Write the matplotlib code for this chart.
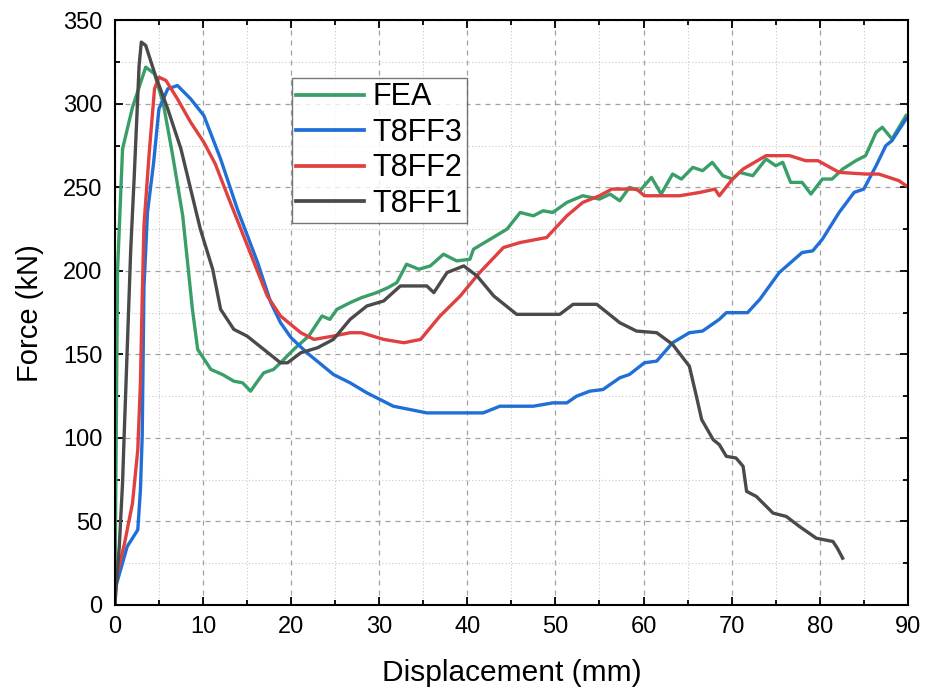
import matplotlib
matplotlib.use("Agg")
import matplotlib.pyplot as plt
from matplotlib.ticker import MultipleLocator

plt.rcParams['font.family'] = ['Liberation Sans', 'DejaVu Sans']

# Force-displacement curves (displacement in mm, force in kN)
fea_x = [0, 0.3, 0.87, 2.0, 3.5, 4.5, 5.5, 6.5, 7.7, 8.8, 9.4, 10.9, 12.2, 13.5, 14.5, 15.4,
         16.2, 16.9, 18.0, 18.8, 20.3, 22.0, 23.5, 24.4, 25.2, 26.7, 28.0, 29.7, 31.0, 32.0,
         33.1, 34.5, 35.8, 37.3, 38.8, 40.3, 40.7, 42.6, 44.5, 46.0, 47.5, 48.6, 49.7, 51.3,
         53.1, 55.0, 56.2, 57.3, 58.4, 59.6, 60.9, 62.0, 63.3, 64.3, 65.6, 66.7, 67.8, 69.0,
         70.1, 70.9, 72.4, 73.9, 75.0, 75.8, 76.7, 78.0, 79.0, 80.3, 81.4, 82.6, 84.1, 85.2,
         86.4, 87.1, 88.2, 89.0, 89.8]
fea_y = [0, 200, 273, 298, 322, 318, 300, 271, 233, 177, 153, 141, 138, 134, 133, 128,
         134, 139, 141, 145, 153, 161, 173, 171, 177, 181, 184, 187, 190, 193,
         204, 201, 203, 210, 206, 207, 213, 219, 225, 235, 233, 236, 235, 241,
         245, 243, 246, 242, 250, 248, 256, 246, 258, 255, 262, 260, 265, 257,
         255, 259, 257, 267, 263, 265, 253, 253, 246, 255, 255, 261, 266, 269,
         283, 286, 279, 286, 293]

t3_x = [0, 0.1, 1.4, 2.6, 2.9, 3.1, 3.3, 3.7, 4.4, 5.0, 6.0, 7.1, 8.6, 10.1, 12.0, 13.9,
        16.2, 17.7, 18.8, 20.0, 21.8, 24.8, 26.7, 28.6, 31.6, 33.5, 35.4, 41.8, 43.7, 47.5,
        49.7, 51.3, 52.4, 53.9, 55.4, 57.3, 58.4, 60.1, 61.5, 63.3, 65.2, 66.7, 68.6, 69.4,
        71.8, 73.2, 75.4, 78.0, 79.2, 80.3, 82.2, 83.9, 85.0, 86.4, 87.5, 88.2, 89.8]
t3_y = [0, 11, 35, 45, 69, 101, 190, 235, 265, 297, 309, 311, 303, 293, 267, 237,
        205, 181, 169, 160, 151, 138, 133, 127, 119, 117, 115, 115, 119, 119,
        121, 121, 125, 128, 129, 136, 138, 145, 146, 157, 163, 164, 171, 175,
        175, 183, 199, 211, 212, 219, 235, 247, 249, 263, 275, 278, 291]

t2_x = [0, 0.1, 1.1, 2.0, 2.6, 2.9, 3.1, 3.3, 3.9, 4.5, 5.0, 5.8, 7.1, 8.6, 10.1, 11.4,
        12.8, 14.3, 15.8, 17.3, 18.8, 21.1, 22.6, 24.8, 26.7, 28.0, 30.5, 32.8, 34.7, 36.9,
        39.2, 41.4, 44.1, 46.0, 49.0, 51.3, 53.1, 55.0, 56.4, 59.2, 60.1, 64.1, 66.4, 68.1,
        68.6, 70.1, 71.3, 73.9, 76.6, 78.4, 79.8, 82.2, 85.2, 86.7, 89.0, 89.8]
t2_y = [0, 15, 37, 61, 93, 133, 183, 227, 271, 309, 316, 314, 303, 289, 277, 264,
        245, 225, 205, 185, 173, 163, 159, 161, 163, 163, 159, 157, 159, 173,
        185, 199, 214, 217, 220, 233, 241, 245, 249, 249, 245, 245, 247, 249,
        245, 255, 261, 269, 269, 266, 266, 259, 258, 258, 254, 251]

t1_x = [0, 0.5, 0.87, 1.05, 1.4, 1.8, 2.2, 2.75, 3.0, 3.5, 4.6, 6.0, 7.5, 8.6, 9.7, 11.1,
        12.0, 13.5, 15.0, 16.9, 18.8, 19.6, 21.1, 23.0, 24.8, 26.7, 28.6, 30.5, 32.4, 35.4,
        36.2, 37.7, 39.6, 41.1, 43.0, 45.6, 50.5, 52.0, 54.7, 57.3, 59.2, 61.5, 63.3, 65.2,
        66.0, 66.6, 67.9, 68.6, 69.4, 70.5, 71.3, 71.7, 72.8, 74.7, 76.2, 77.7, 79.6, 81.5,
        82.0, 82.6]
t1_y = [0, 35, 73, 101, 153, 213, 257, 323, 337, 335, 317, 297, 273, 249, 225, 201,
        177, 165, 161, 153, 145, 145, 151, 154, 159, 171, 179, 182, 191, 191,
        187, 199, 203, 197, 185, 174, 174, 180, 180, 169, 164, 163, 156, 143,
        125, 111, 99, 96, 89, 88, 83, 68, 65, 55, 53, 47, 40, 38,
        34, 28]

series_labels = ['FEA', 'T8FF3', 'T8FF2', 'T8FF1']
series_colors = ['#3a9e68', '#1f6fd6', '#e0403f', '#4a4a4a']

fig = plt.figure(figsize=(9.34, 6.91), dpi=100)
ax = fig.add_axes([0.123, 0.1245, 0.849, 0.846])

for xs, ys, lab, col in zip([fea_x, t3_x, t2_x, t1_x], [fea_y, t3_y, t2_y, t1_y],
                            series_labels, series_colors):
    ax.plot(xs, ys, color=col, lw=2.4, label=lab, solid_joinstyle='round')

ax.set_xlim(0, 90)
ax.set_ylim(0, 350)
ax.xaxis.set_major_locator(MultipleLocator(10))
ax.xaxis.set_minor_locator(MultipleLocator(5))
ax.yaxis.set_major_locator(MultipleLocator(50))
ax.yaxis.set_minor_locator(MultipleLocator(25))

ax.grid(which='major', linestyle=(0, (4, 4)), color='#a0a0a0', lw=0.9)
ax.grid(which='minor', linestyle=(0, (1, 2)), color='#c8c8c8', lw=0.8)
ax.set_axisbelow(True)

ax.tick_params(which='both', direction='in', top=True, right=True, width=1.3,
               labelsize=17, colors='black')
ax.tick_params(which='major', length=6)
ax.tick_params(which='minor', length=3.5)
ax.tick_params(axis='x', which='major', pad=8)
ax.tick_params(axis='y', which='major', pad=9)
for s in ax.spines.values():
    s.set_linewidth(1.5)

ax.set_xlabel('Displacement (mm)', fontsize=21.5, labelpad=15)
ax.set_ylabel('Force (kN)', fontsize=21, labelpad=14)

leg = ax.legend(loc='upper left', bbox_to_anchor=(0.223, 0.902), borderaxespad=0,
                fontsize=22, frameon=True, fancybox=False, handlelength=2.2,
                handletextpad=0.3, labelspacing=0.18, borderpad=0.15)
leg.get_frame().set_edgecolor('#555555')
leg.get_frame().set_linewidth(1.0)
for line in leg.get_lines():
    line.set_linewidth(2.7)

fig.savefig('out.png', dpi=100)
